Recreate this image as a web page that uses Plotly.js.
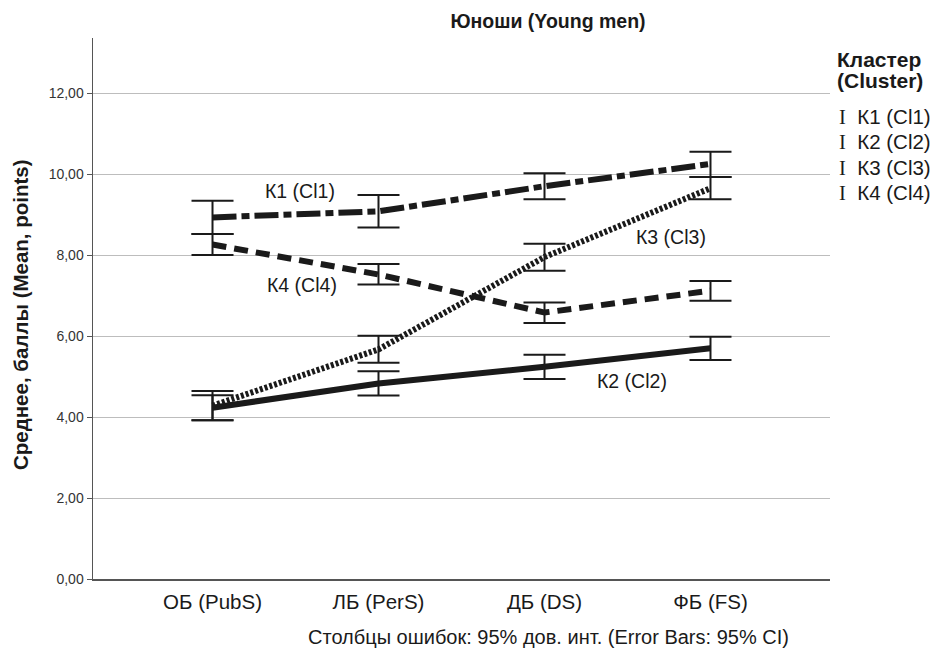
<!DOCTYPE html>
<html>
<head>
<meta charset="utf-8">
<script src="https://cdn.plot.ly/plotly-3.0.1.min.js"></script>
<style>html,body{margin:0;padding:0;background:#fff;}#chart{width:935px;height:650px;}</style>
</head>
<body>
<div id="chart"></div>
<script>
// ---- data ----
var categories = ['ОБ (PubS)', 'ЛБ (PerS)', 'ДБ (DS)', 'ФБ (FS)'];
var seriesNames = ['К1 (Cl1)', 'К2 (Cl2)', 'К3 (Cl3)', 'К4 (Cl4)'];

var k1Mean = [8.93, 9.08, 9.70, 10.25];
var k1Low  = [8.52, 8.68, 9.38, 9.93];
var k1High = [9.34, 9.48, 10.02, 10.55];

var k2Mean = [4.23, 4.83, 5.24, 5.70];
var k2Low  = [3.92, 4.53, 4.94, 5.41];
var k2High = [4.54, 5.13, 5.54, 5.98];

var k3Mean = [4.28, 5.67, 7.95, 9.65];
var k3Low  = [3.92, 5.34, 7.61, 9.38];
var k3High = [4.64, 6.01, 8.28, 9.93];

var k4Mean = [8.26, 7.52, 6.58, 7.12];
var k4Low  = [8.00, 7.27, 6.32, 6.87];
var k4High = [8.52, 7.78, 6.83, 7.36];

var yTicks = [0, 2, 4, 6, 8, 10, 12];

// ---- styles ----
var dashes = ['24px,5px,8px,5px', 'solid', '3px,2px', '14px,8px'];
var means = [k1Mean, k2Mean, k3Mean, k4Mean];
var lows = [k1Low, k2Low, k3Low, k4Low];
var highs = [k1High, k2High, k3High, k4High];

var FONT = 'Liberation Sans, Arial, sans-serif';

var traces = means.map(function (m, i) {
  return {
    type: 'scatter',
    mode: 'lines',
    x: categories,
    y: m,
    name: seriesNames[i],
    showlegend: false,
    line: {color: '#1a1a1a', width: 6, dash: dashes[i]},
    error_y: {
      type: 'data',
      symmetric: false,
      array: m.map(function (v, j) { return highs[i][j] - v; }),
      arrayminus: m.map(function (v, j) { return v - lows[i][j]; }),
      color: '#1a1a1a',
      thickness: 2,
      width: 21
    }
  };
});

// on-chart series labels (positions in data coordinates)
var labelPos = [
  {x: 0.53, y: 9.58},
  {x: 2.53, y: 4.88},
  {x: 2.76, y: 8.45},
  {x: 0.54, y: 7.27}
];

var annotations = labelPos.map(function (p, i) {
  return {
    xref: 'x', yref: 'y', x: p.x, y: p.y,
    text: seriesNames[i], showarrow: false,
    font: {family: FONT, size: 19.5, color: '#1a1a1a'},
    xanchor: 'center', yanchor: 'middle'
  };
});

// axis titles
annotations.push({
  xref: 'paper', yref: 'paper', x: (548 - 93) / 737, y: -(637 - 579) / 541,
  text: 'Столбцы ошибок: 95% дов. инт. (Error Bars: 95% CI)', showarrow: false,
  font: {family: FONT, size: 20, color: '#1a1a1a'}, xanchor: 'center', yanchor: 'middle'
});
annotations.push({
  xref: 'paper', yref: 'paper', x: (20 - 93) / 737, y: (579 - 315) / 541,
  text: '<b>Среднее, баллы (Mean, points)</b>', showarrow: false, textangle: -90,
  font: {family: FONT, size: 20.5, color: '#1a1a1a'}, xanchor: 'center', yanchor: 'middle'
});

// legend (drawn as text)
var legendTitle = ['<b>Кластер</b>', '<b>(Cluster)</b>'];
var legendTitleY = [59, 80];
legendTitle.forEach(function (t, i) {
  annotations.push({
    xref: 'paper', yref: 'paper', x: (835 - 93) / 737, y: (579 - legendTitleY[i]) / 541,
    text: t, showarrow: false, align: 'left',
    font: {family: FONT, size: 21, color: '#1a1a1a'}, xanchor: 'left', yanchor: 'middle'
  });
});
var legendY = [116, 141, 167, 193];
seriesNames.forEach(function (n, i) {
  annotations.push({
    xref: 'paper', yref: 'paper', x: (837 - 93) / 737, y: (579 - legendY[i]) / 541,
    text: '<span style="font-family:Liberation Serif">I</span>  ' + n, showarrow: false,
    font: {family: FONT, size: 20.5, color: '#1a1a1a'}, xanchor: 'left', yanchor: 'middle'
  });
});

var layout = {
  width: 935, height: 650,
  margin: {l: 93, r: 105, t: 38, b: 71},
  paper_bgcolor: '#ffffff', plot_bgcolor: '#ffffff',
  separators: ', ',
  font: {family: FONT, color: '#1a1a1a'},
  title: {
    text: '<b>Юноши (Young men)</b>',
    x: 548 / 935, xanchor: 'center', y: 1 - 21 / 650, yanchor: 'middle',
    font: {family: FONT, size: 19.5, color: '#1a1a1a'}
  },
  xaxis: {
    type: 'category',
    range: [-0.72, 3.72],
    showgrid: false, zeroline: false,
    showline: true, linecolor: '#555', linewidth: 1.5,
    ticks: '', tickfont: {family: FONT, size: 20.5, color: '#1a1a1a'},
    ticklabelstandoff: 4
  },
  yaxis: {
    range: [0, 13.36],
    tickvals: yTicks, tickformat: '.2f',
    showgrid: true, gridcolor: '#bdbdbd', gridwidth: 1,
    zeroline: false,
    showline: true, linecolor: '#555', linewidth: 1.5,
    ticks: 'outside', ticklen: 5, tickcolor: '#555',
    tickfont: {family: FONT, size: 14, color: '#333'}
  },
  annotations: annotations
};

Plotly.newPlot('chart', traces, layout, {displayModeBar: false, staticPlot: true});
</script>
</body>
</html>
